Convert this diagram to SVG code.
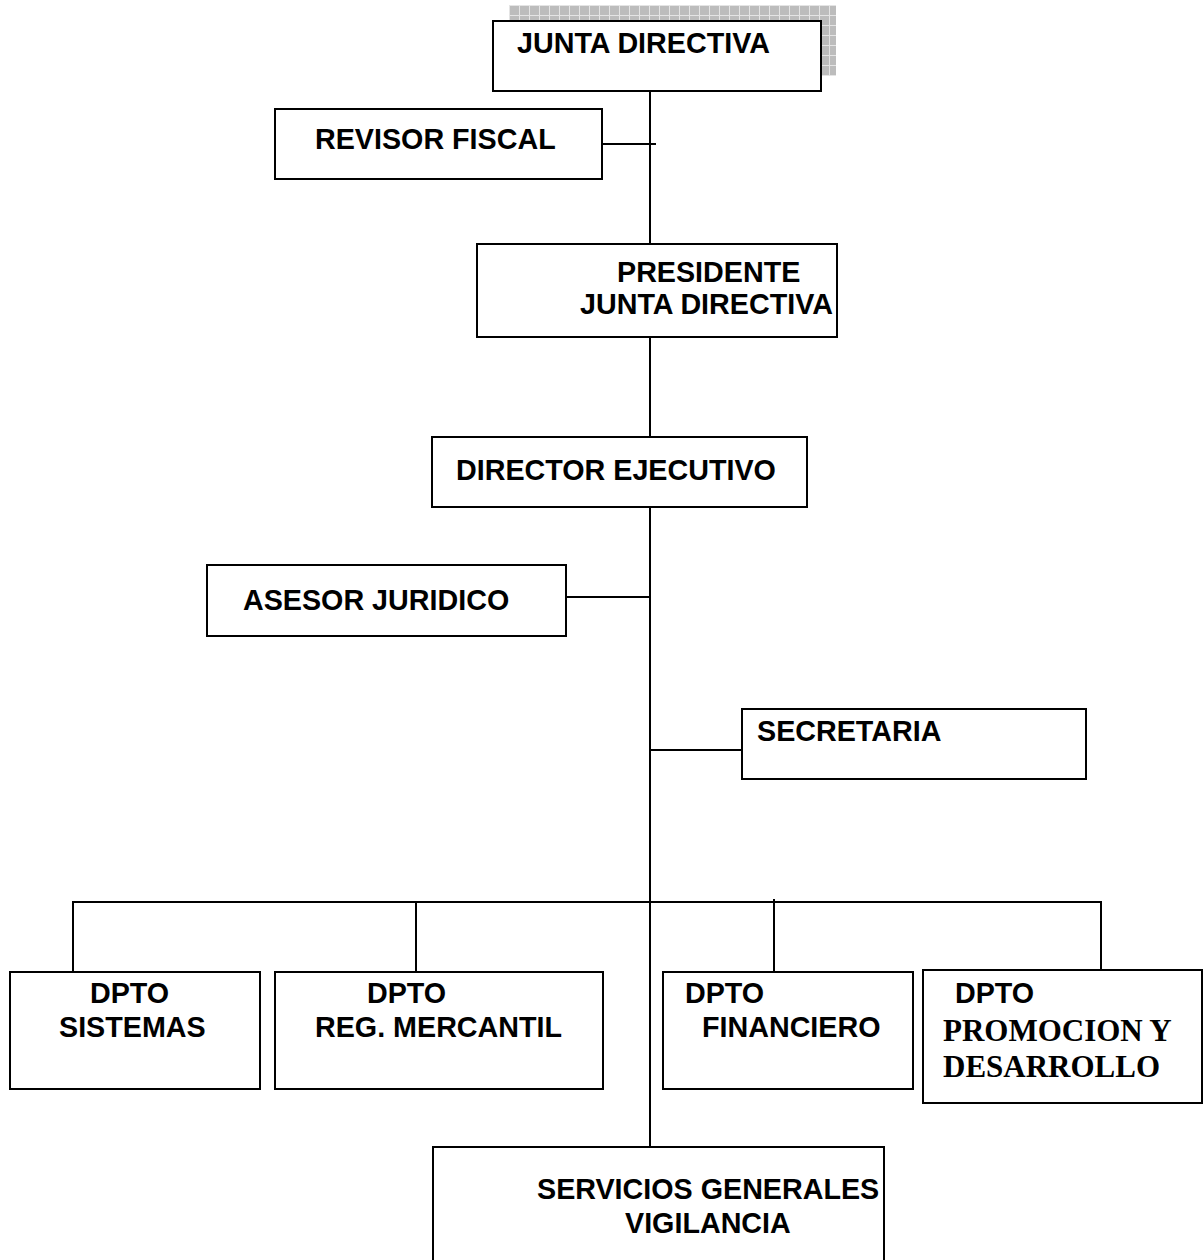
<svg xmlns="http://www.w3.org/2000/svg" width="1204" height="1260" viewBox="0 0 1204 1260">
<defs>
<pattern id="shade" width="10" height="10" patternUnits="userSpaceOnUse" x="509" y="5">
<rect width="10" height="10" fill="#bcbcbc"/>
<path d="M0 0.5H10M0.5 0V10" stroke="#e4e4e4" stroke-width="1"/>
</pattern>
<style>
.box{fill:#fff;stroke:#000;stroke-width:2}
.t{font-family:"Liberation Sans",Arial,sans-serif;font-weight:bold;font-size:28.7px;fill:#000}
.s{font-family:"Liberation Serif","Times New Roman",serif;font-weight:bold;font-size:31px;fill:#000}
.ln{fill:none;stroke:#000;stroke-width:2}
</style>
</defs>
<rect width="1204" height="1260" fill="#fff"/>
<g id="connectors">
<path class="ln" d="M650 91V244"/>
<path class="ln" d="M602 144H656"/>
<path class="ln" d="M650 337V437"/>
<path class="ln" d="M650 507V1147"/>
<path class="ln" d="M566 597H650"/>
<path class="ln" d="M650 750H742"/>
<path class="ln" d="M72 902H1102"/>
<path class="ln" d="M73 901V972"/>
<path class="ln" d="M416 902V972"/>
<path class="ln" d="M774 899V972"/>
<path class="ln" d="M1101 901V972"/>
</g>
<g id="junta-directiva">
<rect x="509" y="5" width="327" height="71" fill="url(#shade)"/>
<rect class="box" x="493" y="21" width="328" height="70"/>
<text class="t" x="517" y="53">JUNTA DIRECTIVA</text>
</g>
<g id="revisor-fiscal">
<rect class="box" x="275" y="109" width="327" height="70"/>
<text class="t" x="315" y="149">REVISOR FISCAL</text>
</g>
<g id="presidente">
<rect class="box" x="477" y="244" width="360" height="93"/>
<text class="t" x="617" y="282">PRESIDENTE</text>
<text class="t" x="580" y="314">JUNTA DIRECTIVA</text>
</g>
<g id="director-ejecutivo">
<rect class="box" x="432" y="437" width="375" height="70"/>
<text class="t" x="456" y="480">DIRECTOR EJECUTIVO</text>
</g>
<g id="asesor-juridico">
<rect class="box" x="207" y="565" width="359" height="71"/>
<text class="t" x="243" y="610">ASESOR JURIDICO</text>
</g>
<g id="secretaria">
<rect class="box" x="742" y="709" width="344" height="70"/>
<text class="t" x="757" y="741">SECRETARIA</text>
</g>
<g id="dpto-sistemas">
<rect class="box" x="10" y="972" width="250" height="117"/>
<text class="t" x="90" y="1003">DPTO</text>
<text class="t" x="59" y="1037">SISTEMAS</text>
</g>
<g id="dpto-reg-mercantil">
<rect class="box" x="275" y="972" width="328" height="117"/>
<text class="t" x="367" y="1003">DPTO</text>
<text class="t" x="315" y="1037">REG. MERCANTIL</text>
</g>
<g id="dpto-financiero">
<rect class="box" x="663" y="972" width="250" height="117"/>
<text class="t" x="685" y="1003">DPTO</text>
<text class="t" x="702" y="1037">FINANCIERO</text>
</g>
<g id="dpto-promocion">
<rect class="box" x="923" y="970" width="279" height="133"/>
<text class="t" x="955" y="1003">DPTO</text>
<text class="s" x="943" y="1041">PROMOCION Y</text>
<text class="s" x="943" y="1077">DESARROLLO</text>
</g>
<g id="servicios-generales">
<rect class="box" x="433" y="1147" width="451" height="125"/>
<text class="t" x="537" y="1199">SERVICIOS GENERALES</text>
<text class="t" x="625" y="1233">VIGILANCIA</text>
</g>
</svg>
